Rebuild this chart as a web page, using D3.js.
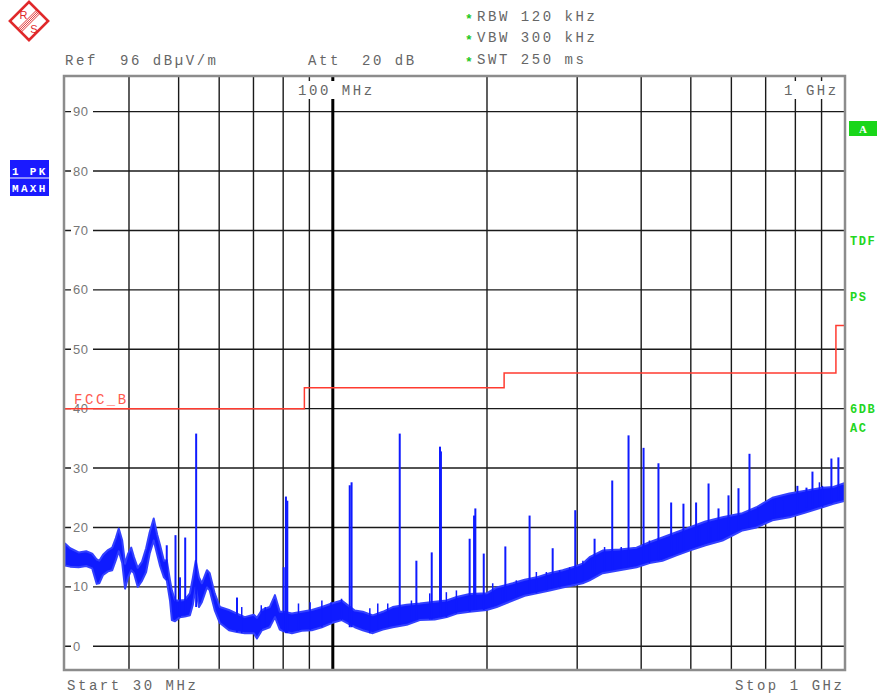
<!DOCTYPE html>
<html>
<head><meta charset="utf-8"></head>
<body style="margin:0;background:#fff">
<script src="https://cdn.jsdelivr.net/npm/d3@7/dist/d3.min.js"></script>
<script>
var width = 882, height = 698;

// axis grid
var gridFreqs = [40, 50, 60, 70, 80, 90, 200, 300, 400, 500, 600, 700, 800, 900];
var levelTicks = [0, 10, 20, 30, 40, 50, 60, 70, 80, 90];

// FCC class B limit line (MHz, dBuV/m)
var limitFreqs = [30, 88, 88, 216, 216, 960, 960, 1000];
var limitLevels = [40, 40, 43.5, 43.5, 46, 46, 54, 54];

// max-hold trace: noise band, lower and upper edge (MHz, dBuV/m)
var bandFreqs = [
    30.0, 30.7, 31.9, 33.0, 33.9, 34.6, 35.0, 35.6, 36.4, 37.1,
    37.7, 38.2, 38.8, 39.3, 39.8, 40.4, 40.9, 41.6, 42.4, 43.2,
    43.9, 44.7, 45.4, 46.0, 46.8, 47.4, 48.1, 48.5, 49.2, 50.3,
    51.4, 52.6, 53.3, 54.0, 54.8, 55.5, 56.8, 57.5, 58.8, 60.2,
    62.7, 65.0, 67.3, 70.1, 71.1, 72.7, 75.3, 77.1, 78.8, 80.2,
    83.2, 87.0, 91.0, 95.2, 99.5, 104.1, 110.4, 114.4, 119.7, 125.2,
    130.9, 139.4, 147.8, 158.1, 166.9, 174.5, 185.0, 199.7, 208.9, 224.5,
    236.9, 250.0, 265.1, 281.0, 296.5, 307.4, 317.2, 336.3, 362.9, 391.7,
    415.2, 440.1, 468.7, 496.9, 534.2, 576.6, 630.7, 671.6, 721.6, 778.9,
    837.2, 903.5, 949.1, 1000];
var bandLow = [
    13.6, 13.4, 13.3, 13.5, 13.1, 10.5, 10.6, 12.0, 12.6, 12.8,
    14.5, 16.0, 14.0, 9.7, 11.5, 12.8, 12.3, 10.0, 11.0, 12.5,
    15.6, 17.8, 15.5, 13.5, 11.6, 11.1, 7.7, 4.4, 4.2, 4.9,
    5.0, 5.2, 7.0, 9.9, 6.6, 7.4, 9.9, 9.4, 6.1, 3.9,
    2.7, 2.4, 2.2, 2.2, 1.3, 2.7, 3.2, 4.9, 2.8, 2.5,
    2.2, 2.6, 2.7, 3.2, 3.9, 4.4, 3.2, 2.7, 2.2, 2.8,
    3.2, 3.6, 4.4, 4.5, 4.9, 5.5, 5.8, 6.1, 6.6, 7.7,
    8.5, 8.9, 9.4, 9.9, 10.3, 10.6, 11.1, 12.3, 12.8, 13.3,
    14.0, 14.4, 15.3, 16.1, 17.0, 17.8, 19.5, 20.0, 21.2, 21.7,
    22.5, 23.4, 24.0, 24.5];
var bandHigh = [
    17.3, 16.5, 15.8, 16.0, 15.6, 14.6, 14.4, 15.4, 16.2, 16.6,
    18.2, 19.8, 17.8, 13.9, 15.5, 16.6, 15.0, 13.2, 14.2, 16.5,
    19.2, 21.5, 18.8, 17.0, 14.4, 14.5, 11.1, 9.4, 7.7, 7.7,
    7.8, 8.9, 11.5, 14.4, 11.6, 10.6, 12.8, 12.3, 8.9, 6.6,
    6.1, 5.5, 4.9, 5.3, 4.8, 6.1, 6.6, 8.6, 5.8, 5.8,
    5.5, 5.8, 6.1, 6.6, 7.2, 7.7, 6.0, 5.8, 5.2, 5.8,
    6.6, 7.0, 7.2, 7.5, 7.7, 8.3, 8.8, 8.9, 9.9, 10.6,
    11.2, 11.6, 12.3, 12.8, 13.4, 13.9, 15.0, 16.1, 16.3, 16.6,
    17.5, 18.3, 19.2, 20.0, 21.0, 21.7, 22.4, 23.4, 25.0, 25.7,
    26.2, 26.7, 26.8, 27.5];

// narrow emissions sticking out of the noise band
var spikeFreqs = [
    47.4, 49.3, 50.3, 51.5, 54.1, 65.0, 80.2, 81.0, 81.5, 107.9,
    108.8, 135.1, 145.6, 156.0, 161.9, 162.6, 185.0, 188.7, 189.8, 197.1,
    217.2, 242.2, 268.7, 297.4, 324.4, 351.2, 377.9, 404.3, 432.3, 457.7,
    483.7, 512.0, 541.5, 566.3, 592.3, 619.5, 650.9, 807.4, 841.0, 863.9,
    940.7, 970.7];
var spikePeaks = [
    17.0, 18.7, 11.6, 18.3, 35.8, 8.2, 13.3, 25.2, 24.5, 27.1,
    27.6, 35.8, 14.4, 15.8, 33.6, 32.8, 18.1, 22.0, 23.2, 15.6,
    16.8, 22.0, 16.5, 22.9, 18.1, 27.9, 35.5, 33.4, 30.8, 24.2,
    24.0, 24.2, 27.4, 23.2, 25.4, 26.6, 32.4, 27.0, 26.7, 29.4,
    31.6, 31.8];

// small peaks just above the noise band
var minorFreqs = [
    66.4, 72.5, 73.8, 85.7, 90.3, 95.2, 99.2, 104.0, 118.1, 122.4,
    128.0, 142.4, 154.6, 166.6, 174.3, 205.2, 214.6, 228.2, 249.7, 261.2,
    277.3, 290.0, 307.8, 321.5, 339.3, 365.7, 415.2, 470.8, 519.7, 548.1,
    595.0, 675.6, 728.2, 755.8, 891.4, 903.5];
var minorPeaks = [
    6.6, 6.9, 6.6, 7.2, 7.4, 7.7, 7.4, 8.0, 6.4, 7.2,
    7.2, 7.7, 8.9, 9.1, 9.4, 10.6, 9.9, 11.1, 12.5, 12.5,
    12.8, 13.3, 14.4, 15.0, 16.7, 16.7, 17.8, 19.0, 20.0, 20.0,
    21.7, 23.4, 24.8, 24.6, 27.6, 27.0];

var plotLeft = 65, plotRight = 845, plotTop = 76, plotBottom = 670;
var mono = '"Liberation Mono", "DejaVu Sans Mono", monospace';
var grey = '#666';

var x = d3.scaleLog().domain([30, 1000]).range([plotLeft, plotRight]);
var y = d3.scaleLinear().domain([-4, 96]).range([plotBottom, plotTop]);

var svg = d3.select('body').append('svg')
    .attr('width', width).attr('height', height)
    .style('display', 'block')
    .style('font-family', mono);

// horizontal grid
svg.selectAll('line.h').data(levelTicks).enter().append('line')
    .attr('x1', plotLeft).attr('x2', plotRight)
    .attr('y1', function (d) { return y(d); })
    .attr('y2', function (d) { return y(d); })
    .attr('stroke', '#1a1a1a').attr('stroke-width', 1.4);

// vertical grid
svg.selectAll('line.v').data(gridFreqs).enter().append('line')
    .attr('x1', function (d) { return x(d); })
    .attr('x2', function (d) { return x(d); })
    .attr('y1', plotTop).attr('y2', plotBottom)
    .attr('stroke', '#1a1a1a').attr('stroke-width', 1.4);
svg.append('line')
    .attr('x1', x(100)).attr('x2', x(100))
    .attr('y1', plotTop).attr('y2', plotBottom)
    .attr('stroke', '#000').attr('stroke-width', 3);

// level labels sitting on the grid lines
levelTicks.forEach(function (v) {
    svg.append('rect').attr('x', 71).attr('y', y(v) - 7)
        .attr('width', 22).attr('height', 14).attr('fill', '#fff');
    svg.append('text').attr('x', 73).attr('y', y(v) + 4.5)
        .attr('font-family', '"Liberation Sans", Arial, sans-serif')
        .attr('font-size', 13).attr('letter-spacing', 0.6)
        .attr('fill', '#777').text(v);
});

// frequency markers at top
function topMark(x0, w, txt) {
    svg.append('rect').attr('x', x0 - 2).attr('y', 81)
        .attr('width', w).attr('height', 18).attr('fill', '#fff');
    svg.append('text').attr('x', x0).attr('y', 94.5)
        .attr('font-size', 14).attr('letter-spacing', 2.55)
        .attr('fill', grey).text(txt);
}
topMark(298, 77, '100 MHz');
topMark(784, 58, '1 GHz');

// limit line
var limitLine = d3.line()
    .x(function (d, i) { return x(limitFreqs[i]); })
    .y(function (d) { return y(d); });
svg.append('path').datum(limitLevels)
    .attr('d', limitLine)
    .attr('fill', 'none').attr('stroke', '#ff3b30').attr('stroke-width', 1.5);
svg.append('text').attr('x', 74).attr('y', 403.5)
    .attr('font-size', 14).attr('letter-spacing', 2.55)
    .attr('fill', '#ff5a50').text('FCC_B');

// trace
var blue = '#0f1bff';
var band = d3.area()
    .x(function (d, i) { return x(bandFreqs[i]); })
    .y0(function (d, i) { return y(bandLow[i]); })
    .y1(function (d) { return y(d); });
svg.append('path').datum(bandHigh)
    .attr('d', band)
    .attr('fill', blue).attr('stroke', '#3340ff').attr('stroke-width', 2)
    .attr('stroke-linejoin', 'round');

function baseOf(f) {
    var k = Math.min(d3.bisectLeft(bandFreqs, f), bandFreqs.length - 1);
    return y(bandLow[k]);
}
svg.selectAll('line.minor').data(minorPeaks).enter().append('line')
    .attr('x1', function (d, i) { return x(minorFreqs[i]); })
    .attr('x2', function (d, i) { return x(minorFreqs[i]); })
    .attr('y1', function (d, i) { return baseOf(minorFreqs[i]); })
    .attr('y2', function (d) { return y(d); })
    .attr('stroke', blue).attr('stroke-width', 1.5);
svg.selectAll('line.spike').data(spikePeaks).enter().append('line')
    .attr('x1', function (d, i) { return x(spikeFreqs[i]); })
    .attr('x2', function (d, i) { return x(spikeFreqs[i]); })
    .attr('y1', function (d, i) { return baseOf(spikeFreqs[i]); })
    .attr('y2', function (d) { return y(d); })
    .attr('stroke', blue).attr('stroke-width', 2);

// frame
svg.append('rect')
    .attr('x', plotLeft - 1).attr('y', plotTop)
    .attr('width', plotRight - plotLeft + 1).attr('height', plotBottom - plotTop)
    .attr('fill', 'none').attr('stroke', '#8c8c8c').attr('stroke-width', 2.5);

// header
function label(x0, y0, txt, col) {
    return svg.append('text').attr('x', x0).attr('y', y0)
        .attr('font-size', 14).attr('letter-spacing', 2.55)
        .attr('fill', col || grey).text(txt);
}
label(65, 65, 'Ref');
label(120, 65, '96 dB\u00b5V/m');
label(308, 65, 'Att');
label(362, 65, '20 dB');
[['RBW 120 kHz', 20.5], ['VBW 300 kHz', 42], ['SWT 250 ms', 64]].forEach(function (r) {
    svg.append('text').attr('x', 465).attr('y', r[1] + 2)
        .attr('font-size', 13).attr('font-weight', 'bold')
        .attr('fill', '#1ec81e').text('*');
    label(477, r[1], r[0]);
});
label(67, 690, 'Start 30 MHz');
label(735, 690, 'Stop 1 GHz');

// trace info boxes at left
[['1 PK', 160, 175], ['MAXH', 178.5, 192]].forEach(function (b) {
    svg.append('rect').attr('x', 10).attr('y', b[1])
        .attr('width', 39).attr('height', 17.5).attr('fill', '#1a1aff');
    svg.append('text').attr('x', 12).attr('y', b[2])
        .attr('font-size', 11).attr('font-weight', 'bold')
        .attr('letter-spacing', 2.3).attr('fill', '#fff').text(b[0]);
});

// status flags at right
svg.append('rect').attr('x', 849).attr('y', 121)
    .attr('width', 28).attr('height', 15).attr('fill', '#19d619');
svg.append('text').attr('x', 863).attr('y', 133).attr('text-anchor', 'middle')
    .attr('font-family', '"Liberation Serif", serif')
    .attr('font-size', 11).attr('font-weight', 'bold')
    .attr('fill', '#fff').text('A');
[['TDF', 245], ['PS', 301], ['6DB', 413], ['AC', 432]].forEach(function (f) {
    svg.append('text').attr('x', 850).attr('y', f[1])
        .attr('font-size', 12).attr('font-weight', 'bold')
        .attr('letter-spacing', 1.6).attr('fill', '#22d622').text(f[0]);
});

// R&S logo
var logo = svg.append('g').attr('transform', 'translate(29,21)');
var lg = logo.append('g').attr('transform', 'rotate(-45)');
lg.append('rect').attr('x', -13.5).attr('y', -13.5)
    .attr('width', 27).attr('height', 27)
    .attr('fill', 'none').attr('stroke', '#e0282a').attr('stroke-width', 2.6);
[-2.4, -0.8, 0.8, 2.4].forEach(function (o) {
    lg.append('line').attr('x1', -13.5).attr('x2', 13.5)
        .attr('y1', o).attr('y2', o)
        .attr('stroke', '#e0282a').attr('stroke-width', 0.9);
});
logo.append('text').attr('x', -5.5).attr('y', -2.5).attr('text-anchor', 'middle')
    .attr('font-family', '"Liberation Sans", sans-serif').attr('font-size', 11)
    .attr('fill', '#e0282a').text('R');
logo.append('text').attr('x', 5).attr('y', 12).attr('text-anchor', 'middle')
    .attr('font-family', '"Liberation Sans", sans-serif').attr('font-size', 11)
    .attr('fill', '#e0282a').text('S');
</script>
</body>
</html>
